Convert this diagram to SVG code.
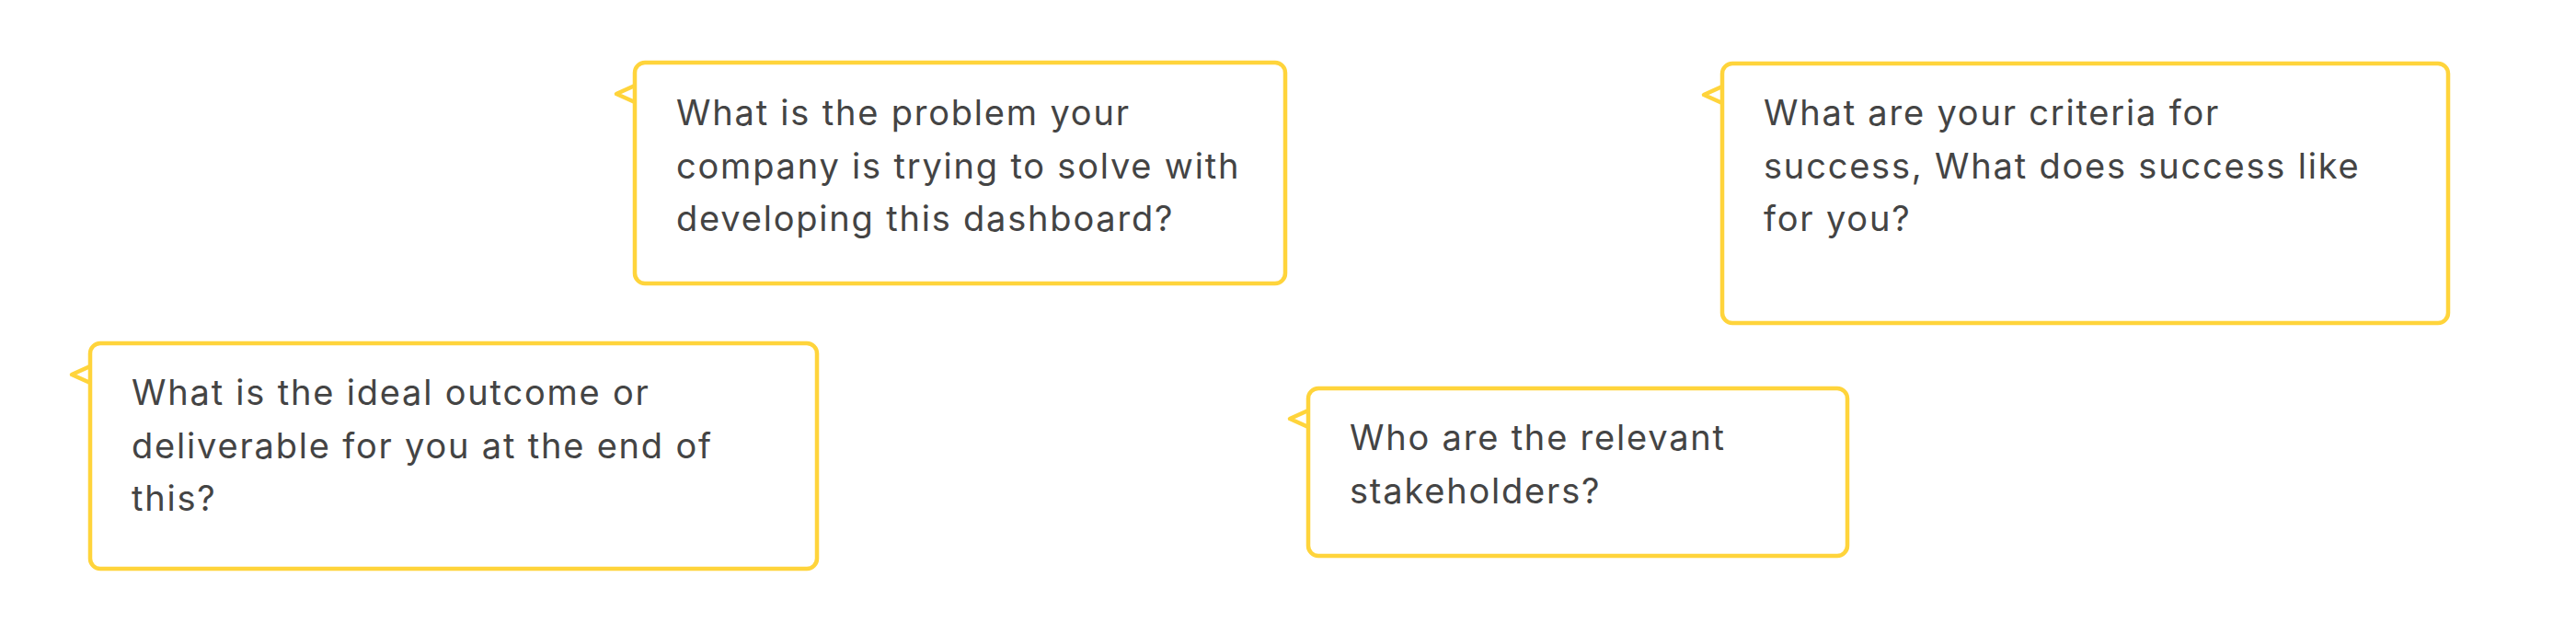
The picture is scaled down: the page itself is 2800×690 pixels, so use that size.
<svg xmlns="http://www.w3.org/2000/svg" width="2800" height="690" viewBox="0 0 2800 690">
<style>
.box{fill:#ffffff;stroke:#FFD43B;stroke-width:4.5;stroke-linejoin:round}
.tail{fill:#ffffff;stroke:#FFD43B;stroke-width:4.5;stroke-linejoin:round;stroke-linecap:round}
.t{font-family:Inter,"Noto Sans","Liberation Sans",sans-serif;font-size:38px;letter-spacing:1.8px;fill:#444444}
</style>
<rect width="2800" height="690" fill="#ffffff"/>
<g id="connectors"></g>
<g id="node-problem">
<path class="tail" d="M690,93 L670,102 L690,111"/>
<rect class="box" x="690" y="68" width="707" height="240" rx="11"/>
<text class="t" x="735" y="136">What is the problem your</text>
<text class="t" x="735" y="193.5">company is trying to solve with</text>
<text class="t" x="735" y="251">developing this dashboard?</text>
</g>
<g id="node-outcome">
<path class="tail" d="M98,398 L78,407 L98,416"/>
<rect class="box" x="98" y="373" width="790" height="245" rx="11"/>
<text class="t" x="143" y="440">What is the ideal outcome or</text>
<text class="t" x="143" y="497.5">deliverable for you at the end of</text>
<text class="t" x="143" y="555">this?</text>
</g>
<g id="node-criteria">
<path class="tail" d="M1872,94 L1852,103 L1872,112"/>
<rect class="box" x="1872" y="69" width="789" height="282" rx="11"/>
<text class="t" x="1917" y="136">What are your criteria for</text>
<text class="t" x="1917" y="193.5">success, What does success like</text>
<text class="t" x="1917" y="251">for you?</text>
</g>
<g id="node-stakeholders">
<path class="tail" d="M1422,446 L1402,455 L1422,464"/>
<rect class="box" x="1422" y="422" width="586" height="182" rx="11"/>
<text class="t" x="1467" y="489">Who are the relevant</text>
<text class="t" x="1467" y="546.5">stakeholders?</text>
</g>
</svg>
